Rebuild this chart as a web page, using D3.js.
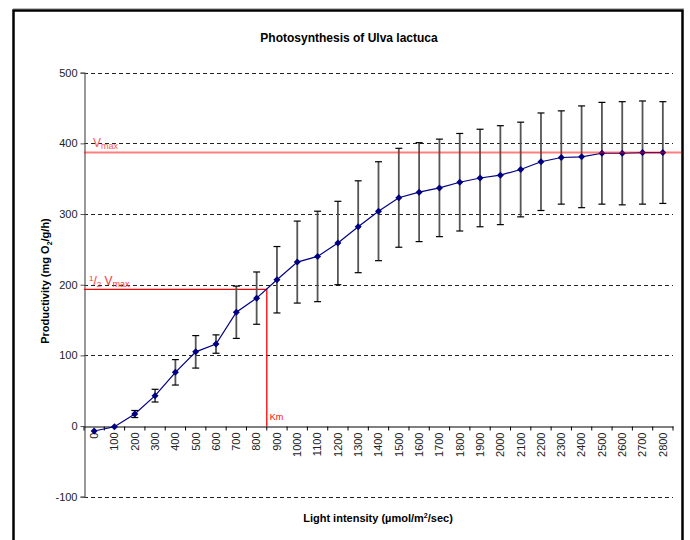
<!DOCTYPE html>
<html><head><meta charset="utf-8">
<script src="https://cdn.jsdelivr.net/npm/d3@7"></script>
<style>body{margin:0;background:#fff}svg{display:block;font-family:"Liberation Sans",Arial,sans-serif}</style>
</head><body>
<svg id="c" width="690" height="540"></svg>
<script>
const categories = [0,100,200,300,400,500,600,700,800,900,1000,1100,1200,1300,1400,1500,1600,1700,1800,1900,2000,2100,2200,2300,2400,2500,2600,2700,2800];
const productivity = [-7,-1,17,43,76,105,116,161,181,207,232,240,259,282,304,323,331,337,345,351,355,363,374,380,381,386,386,387,387];
const errors = [0,0,5,9,18,23,13,37,37,47,58,64,59,65,70,70,70,69,69,69,70,67,69,66,72,72,73,73,72];
const yTicks = [-100,0,100,200,300,400,500];
const vmax = 387;
const kmValue = 850;

const svg = d3.select("#c");
const x = d3.scaleBand().domain(categories).range([84, 673]).padding(0);
const y = d3.scaleLinear().domain([-100, 500]).range([496.7, 72.7]);
const xc = d => x(d) + x.bandwidth() / 2;
const xLin = d3.scaleLinear().domain([categories[0], categories[categories.length-1]]).range([xc(categories[0]), xc(categories[categories.length-1])]);

// frame
svg.append("line").attr("x1",13).attr("x2",684).attr("y1",8.5).attr("y2",8.5).attr("stroke","#bbb").attr("stroke-width",1);
svg.append("rect").attr("x",13.5).attr("y",10.5).attr("width",669).attr("height",545)
  .attr("fill","none").attr("stroke","#000").attr("stroke-width",2.5);

// title
svg.append("text").attr("x",349).attr("y",42).attr("text-anchor","middle")
  .attr("font-size",12).attr("font-weight","bold").text("Photosynthesis of Ulva lactuca");

// gridlines
svg.append("g").selectAll("line").data(yTicks.filter(t => t !== 0)).join("line")
  .attr("x1",84).attr("x2",673).attr("y1",d=>Math.round(y(d))+0.5).attr("y2",d=>Math.round(y(d))+0.5)
  .attr("stroke","#222").attr("stroke-width",1).attr("stroke-dasharray","4,3");

// y axis
const yAxis = d3.axisLeft(y).tickValues(yTicks).tickFormat(d => String(d)).tickSize(4).tickPadding(3);
const gy = svg.append("g").attr("transform","translate(84.5,0)").call(yAxis);
gy.select(".domain").attr("stroke","#555").attr("stroke-width",1.2);
gy.selectAll(".tick line").attr("stroke","#555");
gy.selectAll(".tick text").attr("font-size",11).attr("fill","#222").attr("font-family","Liberation Sans, Arial, sans-serif");

// x axis at zero
const xAxis = d3.axisBottom(x).tickSize(0).tickPadding(0);
const gx = svg.append("g").attr("transform",`translate(0,${Math.round(y(0))+0.5})`).call(xAxis);
gx.select(".domain").attr("stroke","#000");
gx.selectAll(".tick text").attr("font-size",11).attr("fill","#222").attr("font-family","Liberation Sans, Arial, sans-serif")
  .attr("transform","rotate(-90)").attr("text-anchor","end").attr("x",-6).attr("y",0).attr("dy","0.35em");
// boundary ticks
const bounds = d3.range(categories.length + 1).map(i => x.range()[0] + i * x.bandwidth());
gx.append("g").selectAll("line").data(bounds).join("line")
  .attr("x1",d=>d).attr("x2",d=>d).attr("y1",0).attr("y2",4).attr("stroke","#000");

// axis titles
svg.append("text").attr("x",378).attr("y",522).attr("text-anchor","middle")
  .attr("font-size",11).attr("font-weight","bold")
  .html('Light intensity (µmol/m<tspan dy="-4" font-size="7">2</tspan><tspan dy="4">/sec)</tspan>');
svg.append("text").attr("transform","translate(49,281) rotate(-90)").attr("text-anchor","middle")
  .attr("font-size",11).attr("font-weight","bold")
  .html('Productivity (mg O<tspan dy="3" font-size="7">2</tspan><tspan dy="-3">/g/h)</tspan>');

// half vmax + Km lines
const xKm = xLin(kmValue);
svg.append("path").attr("d",`M84,${y(vmax/2)}H${xKm}V${y(0)}`).attr("fill","none").attr("stroke","#ff0000").attr("stroke-width",1.3);

// error bars
const data = categories.map((c,i)=>({c, v:productivity[i], e:errors[i]}));
const eb = svg.append("g");
eb.selectAll("line.v").data(data.filter(d=>d.e>0)).join("line").attr("class","v")
  .attr("x1",d=>xc(d.c)).attr("x2",d=>xc(d.c)).attr("y1",d=>y(d.v+d.e)).attr("y2",d=>y(d.v-d.e))
  .attr("stroke","#555").attr("stroke-width",1.8);
eb.selectAll("line.t").data(data.filter(d=>d.e>0)).join("line").attr("class","t")
  .attr("x1",d=>xc(d.c)-3.5).attr("x2",d=>xc(d.c)+3.5).attr("y1",d=>y(d.v+d.e)).attr("y2",d=>y(d.v+d.e))
  .attr("stroke","#000").attr("stroke-width",1.2);
eb.selectAll("line.b").data(data.filter(d=>d.e>0)).join("line").attr("class","b")
  .attr("x1",d=>xc(d.c)-3.5).attr("x2",d=>xc(d.c)+3.5).attr("y1",d=>y(d.v-d.e)).attr("y2",d=>y(d.v-d.e))
  .attr("stroke","#000").attr("stroke-width",1.2);

// line + markers
svg.append("path").datum(data).attr("fill","none").attr("stroke","#000080").attr("stroke-width",1.2)
  .attr("d", d3.line().x(d=>xc(d.c)).y(d=>y(d.v)));
svg.append("g").selectAll("path").data(data).join("path")
  .attr("transform",d=>`translate(${xc(d.c)},${y(d.v)})`)
  .attr("d","M0,-3.5L3.5,0L0,3.5L-3.5,0Z").attr("fill","#000080");

// vmax line (semi-transparent, on top)
svg.append("line").attr("x1",84).attr("x2",681).attr("y1",y(vmax)).attr("y2",y(vmax))
  .attr("stroke","rgba(255,0,0,0.5)").attr("stroke-width",2);

// labels
svg.append("text").attr("x",93).attr("y",147).attr("fill","#ff5555").attr("font-size",12)
  .html('V<tspan dy="2" font-size="9">max</tspan>');
svg.append("text").attr("x",89).attr("y",285).attr("fill","#ff3333").attr("font-size",12)
  .html('<tspan dy="-4" font-size="8">1</tspan><tspan dy="4">/</tspan><tspan dy="2" font-size="8">2</tspan><tspan dy="-2"> V</tspan><tspan dy="2" font-size="9">max</tspan>');
svg.append("text").attr("x",xKm+3).attr("y",420).attr("fill","#ff0000").attr("font-size",9).text("Km");
</script>
</body></html>
